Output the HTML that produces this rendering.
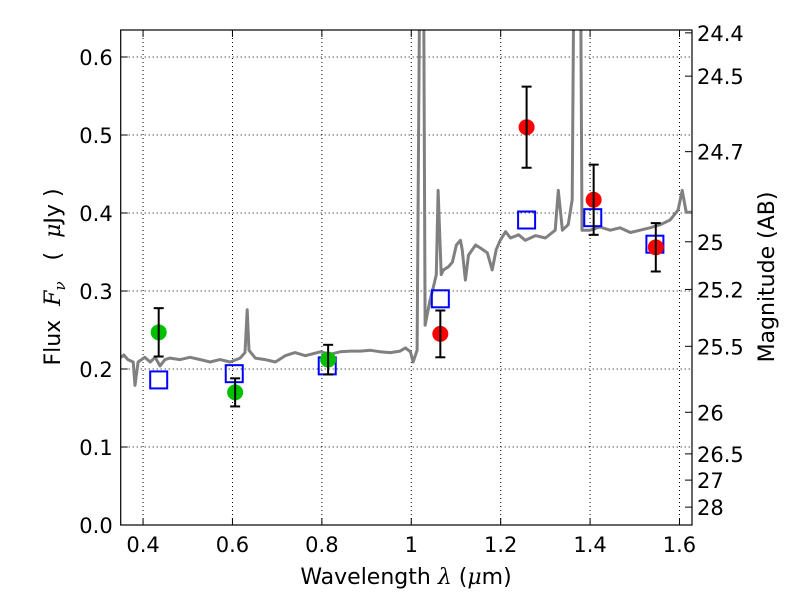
<!DOCTYPE html>
<html><head><meta charset="utf-8"><style>
body{margin:0;background:#fff;}
svg{font-family:"DejaVu Sans","Liberation Sans",sans-serif;}
</style></head><body>
<svg id="chart" width="800" height="600" viewBox="0 0 800 600" xmlns="http://www.w3.org/2000/svg"></svg>
<script>
const specLam=[0.348,0.357,0.366,0.378,0.382,0.389,0.404,0.416,0.427,0.438,0.449,0.460,0.483,0.505,0.528,0.550,0.572,0.595,0.617,0.628,0.633,0.637,0.651,0.673,0.696,0.718,0.740,0.763,0.797,0.819,0.841,0.864,0.886,0.909,0.931,0.953,0.975,0.987,0.998,1.004,1.013,1.020,1.027,1.031,1.042,1.049,1.056,1.060,1.067,1.072,1.083,1.092,1.101,1.110,1.114,1.121,1.128,1.144,1.155,1.170,1.181,1.190,1.199,1.211,1.222,1.240,1.255,1.278,1.300,1.322,1.329,1.338,1.351,1.360,1.365,1.378,1.382,1.400,1.422,1.445,1.467,1.490,1.512,1.534,1.557,1.579,1.597,1.606,1.615,1.628];
const specFlux=[0.214,0.218,0.212,0.209,0.179,0.209,0.215,0.209,0.215,0.204,0.212,0.214,0.212,0.215,0.212,0.209,0.212,0.209,0.214,0.221,0.276,0.224,0.214,0.212,0.209,0.217,0.221,0.217,0.222,0.219,0.222,0.223,0.223,0.224,0.222,0.221,0.223,0.227,0.222,0.209,0.224,0.8,0.8,0.256,0.288,0.304,0.321,0.429,0.321,0.327,0.331,0.337,0.359,0.365,0.353,0.314,0.346,0.359,0.355,0.349,0.327,0.353,0.365,0.376,0.368,0.372,0.365,0.371,0.368,0.378,0.429,0.378,0.385,0.417,0.8,0.8,0.378,0.378,0.382,0.378,0.381,0.375,0.378,0.381,0.385,0.391,0.404,0.429,0.401,0.401];
const greenLam=[0.435,0.606,0.814];
const greenFlux=[0.247,0.170,0.212];
const greenErr=[0.031,0.018,0.019];
const redLam=[1.065,1.258,1.408,1.547];
const redFlux=[0.245,0.510,0.417,0.356];
const redErr=[0.030,0.052,0.045,0.031];
const modelLam=[0.435,0.604,0.812,1.065,1.258,1.406,1.545];
const modelFlux=[0.186,0.194,0.204,0.290,0.391,0.394,0.360];
const xTicks=[0.4,0.6,0.8,1.0,1.2,1.4,1.6];
const xTickLabels=["0.4","0.6","0.8","1","1.2","1.4","1.6"];
const yTicks=[0,0.1,0.2,0.3,0.4,0.5,0.6];
const yTickLabels=["0.0","0.1","0.2","0.3","0.4","0.5","0.6"];
const magTicks=[24.4,24.5,24.7,25,25.2,25.5,26,26.5,27,28];
const magLabels=["24.4","24.5","24.7","25","25.2","25.5","26","26.5","27","28"];

const L=120.7,R=692,T=30,B=525;
const X0=0.35,X1=1.628,Y0=0,Y1=0.6346;
const sx=v=>L+(v-X0)/(X1-X0)*(R-L);
const sy=v=>B-(v-Y0)/(Y1-Y0)*(B-T);
const NS="http://www.w3.org/2000/svg";
const svg=document.getElementById('chart');
function mk(tag,attrs,parent){const e=document.createElementNS(NS,tag);for(const k in attrs)e.setAttribute(k,attrs[k]);(parent||svg).appendChild(e);return e;}

const defs=mk('defs',{});
const cp=mk('clipPath',{id:'clip'},defs);
mk('rect',{x:L,y:T,width:R-L,height:B-T},cp);

const grid=mk('g',{});


xTicks.forEach(v=>{mk('line',{x1:sx(v),x2:sx(v),y1:T,y2:B,stroke:'#000','stroke-width':1,'stroke-dasharray':'1,3'},grid);});
yTicks.forEach(v=>{mk('line',{x1:L,x2:R,y1:sy(v),y2:sy(v),stroke:'#000','stroke-width':1,'stroke-dasharray':'1,3'},grid);});

const clipG=mk('g',{'clip-path':'url(#clip)'});
let d='';
specLam.forEach((l,i)=>{d+=(i?'L':'M')+sx(l).toFixed(1)+','+sy(specFlux[i]).toFixed(1);});
const sp=mk('path',{d:d,fill:'none',stroke:'#808080','stroke-width':3,'stroke-linejoin':'round'},clipG);



modelLam.forEach((l,i)=>{
  const r=mk('rect',{x:sx(l)-8.5,y:sy(modelFlux[i])-8.5,width:17,height:17,fill:'none',stroke:'#0000ff','stroke-width':2},clipG);
  
  
});
function pts(lams,fl,er,col,nm){
  lams.forEach((l,i)=>{
    const g=mk('g',{},clipG);
    
    
    const x=sx(l),y1=sy(fl[i]+er[i]),y2=sy(fl[i]-er[i]);
    mk('circle',{cx:x,cy:sy(fl[i]),r:8,fill:col},g);
    mk('line',{x1:x,x2:x,y1:y1,y2:y2,stroke:'#000','stroke-width':2},g);
    mk('line',{x1:x-5,x2:x+5,y1:y1,y2:y1,stroke:'#000','stroke-width':2},g);
    mk('line',{x1:x-5,x2:x+5,y1:y2,y2:y2,stroke:'#000','stroke-width':2},g);
  });
}
pts(greenLam,greenFlux,greenErr,'#00c000','green-photometry-point');
pts(redLam,redFlux,redErr,'#ff0000','red-photometry-point');

const fr=mk('rect',{x:L,y:T,width:R-L,height:B-T,fill:'none',stroke:'#000','stroke-width':1.2});



xTicks.forEach((v,i)=>{
  const x=sx(v);
  mk('line',{x1:x,x2:x,y1:B,y2:B-7,stroke:'#000'});
  mk('line',{x1:x,x2:x,y1:T,y2:T+7,stroke:'#000'});
  const t=mk('text',{x:x,y:B+27,'text-anchor':'middle','font-size':21});
  t.textContent=xTickLabels[i];
  
  
});
yTicks.forEach((v,i)=>{
  const y=sy(v);
  mk('line',{x1:L,x2:L+7,y1:y,y2:y,stroke:'#000'});
  const t=mk('text',{x:L-8,y:y+8,'text-anchor':'end','font-size':21});
  t.textContent=yTickLabels[i];
  
  
});
magTicks.forEach((m,i)=>{
  const y=sy(Math.pow(10,(23.9-m)/2.5));
  mk('line',{x1:R,x2:R-7,y1:y,y2:y,stroke:'#000'});
  const t=mk('text',{x:R+5,y:y+8,'font-size':21});
  t.textContent=magLabels[i];
  
  
});
</script>
<svg width="800" height="600" style="position:absolute;left:0;top:0" xmlns="http://www.w3.org/2000/svg">
<text x="406" y="584" text-anchor="middle" font-size="22" font-family="DejaVu Sans, Liberation Sans, sans-serif">Wavelength  <tspan font-family="DejaVu Serif, Liberation Serif, serif" font-style="italic">λ</tspan> (<tspan font-family="DejaVu Serif, Liberation Serif, serif" font-style="italic">μ</tspan>m)</text>
<text transform="translate(60,277) rotate(-90)" text-anchor="middle" font-size="22" font-family="DejaVu Sans, Liberation Sans, sans-serif" xml:space="preserve">Flux  <tspan font-family="DejaVu Serif, Liberation Serif, serif" font-style="italic">F<tspan font-size="15" dy="5">ν</tspan></tspan><tspan dy="-5">   (  </tspan><tspan font-family="DejaVu Serif, Liberation Serif, serif" font-style="italic">μ</tspan>Jy )</text>
<text transform="translate(774,277) rotate(-90)" text-anchor="middle" font-size="22" font-family="DejaVu Sans, Liberation Sans, sans-serif">Magnitude (AB)</text>
</svg>
</body></html>
